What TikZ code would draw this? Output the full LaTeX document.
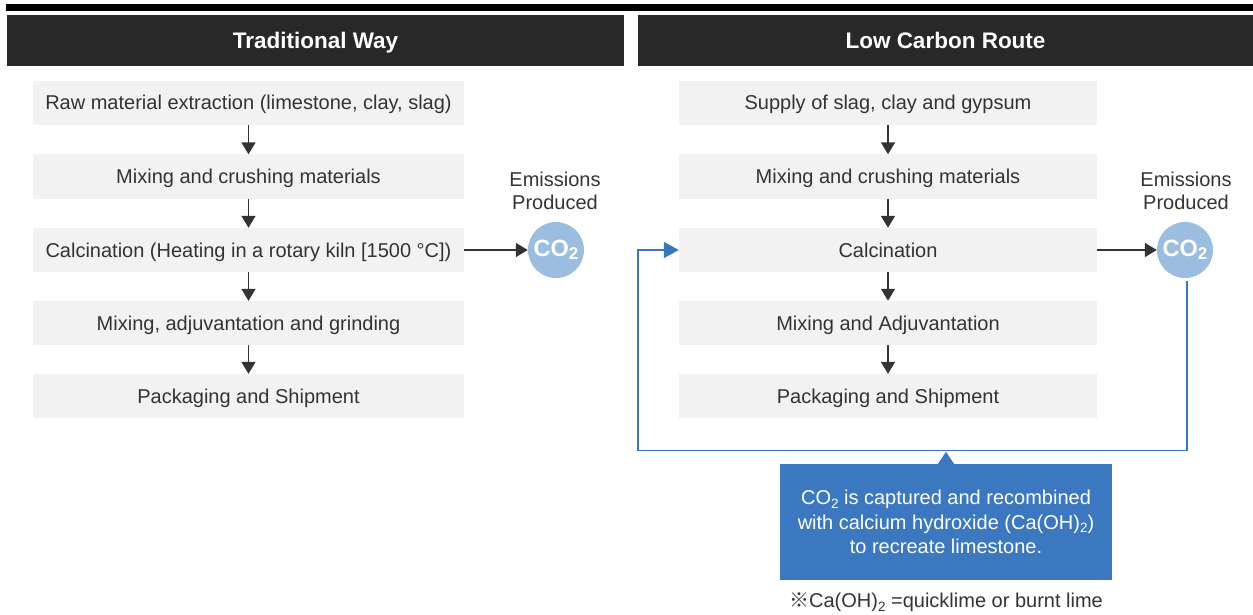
\documentclass[tikz,border=0pt]{standalone}
\usepackage{fontspec}
\setmainfont{Liberation Sans}
\newfontfamily\cjkfont{Noto Sans CJK JP}
\usetikzlibrary{arrows.meta,calc}
\definecolor{hdr}{HTML}{282828}
\definecolor{boxfill}{HTML}{F2F2F2}
\definecolor{txt}{HTML}{333333}
\definecolor{co2fill}{HTML}{9BBDE0}
\definecolor{loopblue}{HTML}{3A76BF}
\definecolor{callblue}{HTML}{3B78C0}
\newcommand{\chemsub}[1]{\raisebox{-0.35ex}{\fontsize{13.5}{13.5}\selectfont #1}}
\newcommand{\cosub}[1]{\raisebox{-0.2ex}{\fontsize{17}{17}\selectfont\bfseries #1}}
\tikzset{
  header/.style={fill=hdr, text=white, font=\fontsize{22.5}{26}\selectfont\bfseries, inner sep=0pt, minimum height=51pt, text height=16pt, text depth=0pt},
  stepbox/.style={fill=boxfill, text=txt, font=\fontsize{20}{24}\selectfont, inner sep=0pt, minimum height=44pt, text height=16pt, text depth=2pt},
  darrow/.style={draw=txt, line width=1.7pt, -{Triangle[length=12pt,width=14pt]}},
  co2/.style={circle, fill=co2fill, text=white, minimum size=56pt, inner sep=0pt, font=\fontsize{23.5}{26}\selectfont\bfseries},
  emis/.style={text=txt, align=center, font=\fontsize{20}{23.5}\selectfont, inner sep=0pt},
  bluearrow/.style={draw=loopblue, line width=1.5pt, -{Triangle[length=15pt,width=16pt]}},
  callout/.style={fill=callblue, text=white, align=center, font=\fontsize{20}{24.5}\selectfont, inner sep=0pt, minimum width=332pt, minimum height=116pt},
}
\begin{document}
\begin{tikzpicture}[x=1pt,y=-1pt]
\useasboundingbox (0,0) rectangle (1253,615);
\fill[black] (6,4) rectangle (1253,11);
\node[header, minimum width=617pt] (hl) at (315.5,40.5) {Traditional Way};
\node[header, minimum width=615pt] (hr) at (945.5,40.5) {Low Carbon Route};
% left column
\node[stepbox, minimum width=431pt] (l1) at (248.5,103) {Raw material extraction (limestone, clay, slag)};
\node[stepbox, minimum width=431pt] (l2) at (248.5,176.5) {Mixing and crushing materials};
\node[stepbox, minimum width=431pt] (l3) at (248.5,250) {Calcination (Heating in a rotary kiln [1500 °C])};
\node[stepbox, minimum width=431pt] (l4) at (248.5,323) {Mixing, adjuvantation and grinding};
\node[stepbox, minimum width=431pt] (l5) at (248.5,396) {Packaging and Shipment};
\draw[darrow] (l1) -- (l2);
\draw[darrow] (l2) -- (l3);
\draw[darrow] (l3) -- (l4);
\draw[darrow] (l4) -- (l5);
\node[co2] (cl) at (556,250) {CO\cosub{2}};
\node[emis] (el) at (555,191) {Emissions\\Produced};
\draw[darrow] (l3) -- (cl);
% right column
\node[stepbox, minimum width=418pt] (r1) at (888,103) {Supply of slag, clay and gypsum};
\node[stepbox, minimum width=418pt] (r2) at (888,176.5) {Mixing and crushing materials};
\node[stepbox, minimum width=418pt] (r3) at (888,250) {Calcination};
\node[stepbox, minimum width=418pt] (r4) at (888,323) {Mixing and Adjuvantation};
\node[stepbox, minimum width=418pt] (r5) at (888,396) {Packaging and Shipment};
\draw[darrow] (r1) -- (r2);
\draw[darrow] (r2) -- (r3);
\draw[darrow] (r3) -- (r4);
\draw[darrow] (r4) -- (r5);
\node[co2] (cr) at (1185,250) {CO\cosub{2}};
\node[emis] (er) at (1186,191) {Emissions\\Produced};
\draw[darrow] (r3) -- (cr);
% loop
\coordinate (loopL) at (638,450.5);
\draw[bluearrow] ([xshift=2pt,yshift=-3pt]cr.south) |- (loopL) |- (r3.west);
% callout
\node[callout] (cb) at (946,522) {CO\chemsub{2} is captured and recombined\\with calcium hydroxide (Ca(OH)\chemsub{2})\\to recreate limestone.};
\fill[callblue] ([xshift=-8pt]cb.north) -- ([yshift=12pt]cb.north) -- ([xshift=8pt]cb.north) -- cycle;
\node[text=txt, font=\fontsize{20}{24}\selectfont, inner sep=0pt] (fn) at (946,602) {{\cjkfont ※}Ca(OH)\chemsub{2} =quicklime or burnt lime};
\end{tikzpicture}
\end{document}
